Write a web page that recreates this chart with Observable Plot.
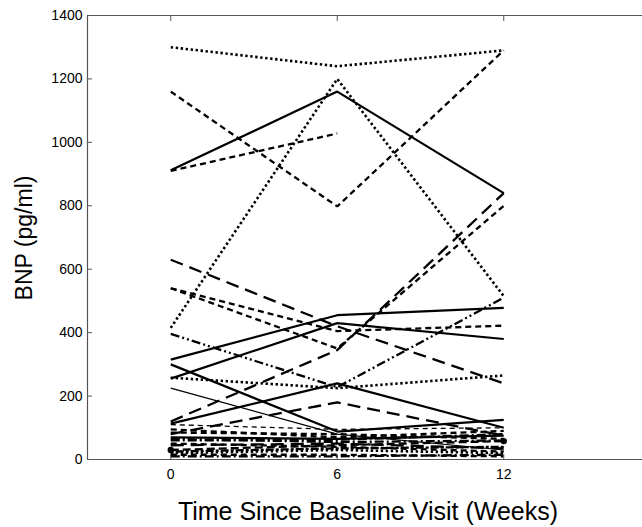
<!DOCTYPE html>
<html>
<head>
<meta charset="utf-8">
<script src="https://cdn.jsdelivr.net/npm/d3@7"></script>
<script src="https://cdn.jsdelivr.net/npm/@observablehq/plot@0.6"></script>
<style>
  html, body { margin: 0; padding: 0; background: #fff; }
  #chart { position: relative; width: 642px; height: 527px; font-family: "Liberation Sans", Arial, sans-serif; }
</style>
</head>
<body>
<div id="chart"></div>
<script>
// Visit times (weeks)
const weeks = [0, 6, 12];
const xTicks = [0, 6, 12];
const yTicks = [0, 200, 400, 600, 800, 1000, 1200, 1400];

// BNP (pg/ml) per patient at each visit
const bnpWeek0  = [1300, 1160,  912,  910,  415,  630,  540,  540,  120,  396,  315,  255,  300,  258,  225,  113,   80,  110,   95,   70,   65,   30,   50,   15,   10,   20,   45,   85,   60,   25];
const bnpWeek6  = [1240,  798, 1160, 1028, 1200,  420,  405,  350,  345,  228,  455,  430,   88,  225,   80,  240,  180,   95,   70,   65,   55,   45,   40,   15,   10,   30,   50,   80,   62,   35];
const bnpWeek12 = [1290, 1290,  840, null,  515,  240,  422,  800,  840,  510,  478,  380,  125,  265,   30,  100,   75,  100,   90,   75,   60,   58,   25,   10,   15,   20,   35,   65,   80,   40];
// line pattern category of each patient
const seriesPattern = ["dot","dash","solid","dash","dot","longdash","dash","dash","longdash","dashdotdot","solid","solid","solid","dot","thin","solid","longdash","thindash","dash","solid","dashdot","markerdash","dash","dash","dashdot","dot","longdash","dash","dashdot","dotdash"];

const patterns = {
  solid:      {w: 2.2, d: null},
  thin:       {w: 1.2, d: null},
  dot:        {w: 2.6, d: "2.4,2.6"},
  dash:       {w: 2.3, d: "6,4"},
  thindash:   {w: 1.3, d: "5,4"},
  longdash:   {w: 2.3, d: "13,7"},
  dashdot:    {w: 2.3, d: "9,3,2,3"},
  dashdotdot: {w: 2.3, d: "9,3,2,3,2,3"},
  markerdash: {w: 2.3, d: "8,4"},
  dotdash:    {w: 2.3, d: "3,2,8,2"}
};

const rows = [];
bnpWeek0.forEach((_, i) => {
  [bnpWeek0[i], bnpWeek6[i], bnpWeek12[i]].forEach((v, j) => {
    if (v != null) rows.push({patient: i, week: weeks[j], bnp: v, pattern: seriesPattern[i]});
  });
});

const lineMarks = Object.entries(patterns).map(([key, p]) =>
  Plot.line(rows.filter(r => r.pattern === key), {
    x: "week", y: "bnp", z: "patient",
    stroke: "black", strokeWidth: p.w,
    strokeDasharray: p.d, strokeLinejoin: "miter", strokeLinecap: "butt"
  })
);

const axisColor = "#555";

const plot = Plot.plot({
  width: 642,
  height: 527,
  marginLeft: 87,
  marginRight: 0,
  marginTop: 15,
  marginBottom: 68,
  style: {fontFamily: "'Liberation Sans', Arial, sans-serif", fontSize: "14px", color: "black", background: "white"},
  x: {domain: [-3, 17], label: null},
  y: {domain: [0, 1400], label: null},
  marks: [
    ...lineMarks,
    Plot.dot(rows.filter(r => r.pattern === "markerdash" && r.week !== 6), {x: "week", y: "bnp", r: 3.2, fill: "black"}),
    Plot.ruleY([0, 1400], {stroke: axisColor, strokeWidth: 1.2}),
    Plot.ruleX([-3], {stroke: axisColor, strokeWidth: 1.2}),
    Plot.axisY({ticks: yTicks, tickSize: -5, tickPadding: 10, tickFormat: d3.format("d"), stroke: axisColor, fill: "black", fontSize: 14, label: null}),
    Plot.axisX({ticks: xTicks, tickSize: -5, tickPadding: 15, tickFormat: d3.format("d"), stroke: axisColor, fill: "black", fontSize: 14, label: null}),
    Plot.axisX({anchor: "top", ticks: xTicks, tickSize: -5, tickFormat: () => "", stroke: axisColor, label: null})
  ]
});

const chart = document.getElementById("chart");
chart.appendChild(plot);

const svg = d3.select(plot);
svg.append("text")
  .attr("transform", "translate(32,238) rotate(-90)")
  .attr("text-anchor", "middle")
  .attr("font-size", 23)
  .attr("font-family", "'Liberation Sans', Arial, sans-serif")
  .attr("fill", "black")
  .text("BNP (pg/ml)");
svg.append("text")
  .attr("x", 368)
  .attr("y", 520)
  .attr("text-anchor", "middle")
  .attr("font-size", 25)
  .attr("font-family", "'Liberation Sans', Arial, sans-serif")
  .attr("fill", "black")
  .text("Time Since Baseline Visit (Weeks)");
</script>
</body>
</html>
